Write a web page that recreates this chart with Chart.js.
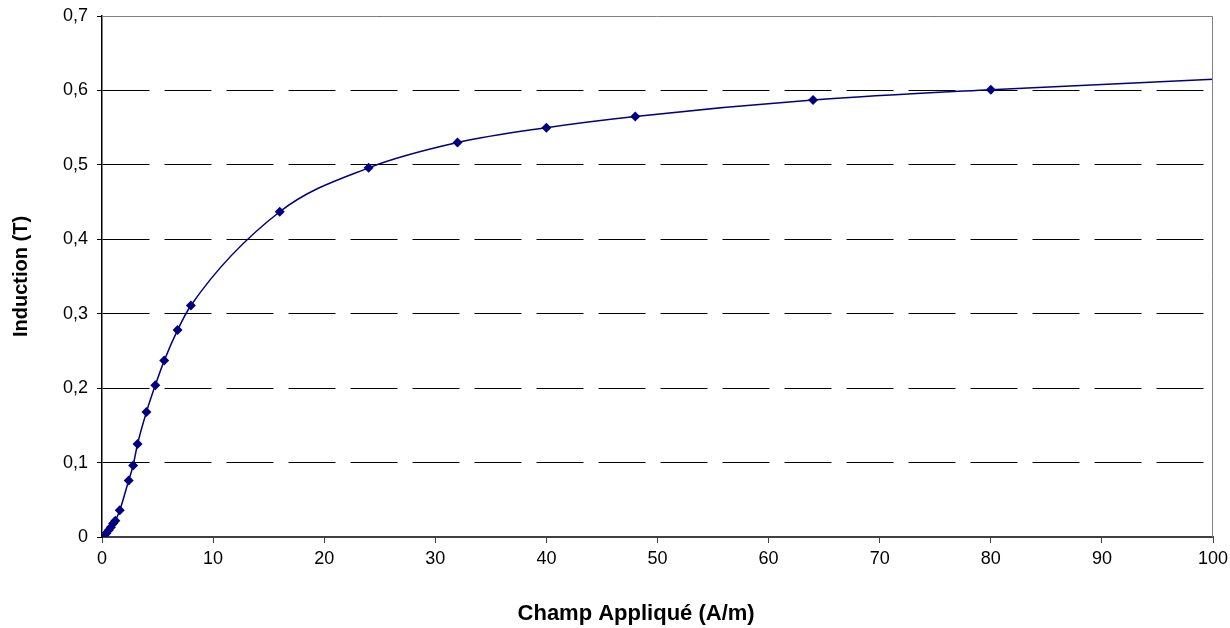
<!DOCTYPE html>
<html>
<head>
<meta charset="utf-8">
<script src="https://cdn.jsdelivr.net/npm/chart.js@4/dist/chart.umd.min.js"></script>
<style>
  html, body { margin: 0; padding: 0; background: #fff; }
  #wrap { width: 1230px; height: 628px; }
</style>
</head>
<body>
<div id="wrap"><canvas id="bhChart" width="1230" height="628"></canvas></div>
<script>
// champ appliqué H (A/m) et induction B (T)
const champ = [0, 0.2, 0.4, 0.6, 0.8, 1.0, 1.2, 1.6, 2.4, 2.8, 3.2, 4.0, 4.8, 5.6, 6.8, 8, 16, 24, 32, 40, 48, 64, 80, 100];
const induction = [0, 0.002, 0.005, 0.009, 0.013, 0.018, 0.022, 0.036, 0.076, 0.096, 0.125, 0.168, 0.204, 0.237, 0.278, 0.311, 0.437, 0.496, 0.530, 0.550, 0.565, 0.587, 0.601, 0.615];
// le dernier point (bord droit) n'a pas de marqueur
const marqueur = champ.map((h, i) => i === champ.length - 1 ? 0 : 5);

const xTicks = [0, 10, 20, 30, 40, 50, 60, 70, 80, 90, 100];
const yTicks = [0, 0.1, 0.2, 0.3, 0.4, 0.5, 0.6, 0.7];

const font = { family: '"Liberation Sans", Arial, sans-serif', size: 18 };
const xTitleFont = { family: '"Liberation Sans", Arial, sans-serif', size: 22, weight: 'bold' };
const yTitleFont = { family: '"Liberation Sans", Arial, sans-serif', size: 20, weight: 'bold' };

// cadre de la zone de tracé (haut et droite en gris)
const cadre = {
  id: 'cadre',
  afterDraw(chart) {
    const { ctx, chartArea: a } = chart;
    ctx.save();
    ctx.strokeStyle = '#808080';
    ctx.lineWidth = 1;
    ctx.beginPath();
    ctx.moveTo(a.left, a.top + 0.5);
    ctx.lineTo(a.right - 0.5, a.top + 0.5);
    ctx.lineTo(a.right - 0.5, a.bottom);
    ctx.stroke();
    ctx.restore();
  }
};

const ctx = document.getElementById('bhChart').getContext('2d');
new Chart(ctx, {
  type: 'scatter',
  data: {
    datasets: [{
      data: champ.map((h, i) => ({ x: h, y: induction[i] })),
      showLine: true,
      borderColor: '#000080',
      borderWidth: 1.5,
      backgroundColor: '#000080',
      pointStyle: 'rectRot',
      pointRadius: marqueur,
      pointBorderWidth: 0,
      cubicInterpolationMode: 'monotone'
    }]
  },
  options: {
    responsive: false,
    animation: false,
    layout: { padding: { top: 16, right: 17, left: 0, bottom: 0 } },
    plugins: { legend: { display: false }, tooltip: { enabled: false } },
    scales: {
      x: {
        type: 'linear',
        min: 0, max: 100,
        afterBuildTicks: s => { s.ticks = xTicks.map(v => ({ value: v })); },
        afterFit: s => { s.height = 91; s.paddingLeft = 0; s.paddingRight = 0; },
        ticks: { font, color: '#000', padding: 5, maxRotation: 0 },
        grid: { display: true, drawOnChartArea: false, tickLength: 6, tickColor: '#404040' },
        border: { color: '#404040', width: 2 },
        title: { display: true, text: 'Champ Appliqué (A/m)       ', font: xTitleFont, color: '#000', padding: { top: 0, bottom: 1 } }
      },
      y: {
        min: 0, max: 0.7,
        afterBuildTicks: s => { s.ticks = yTicks.map(v => ({ value: v })); },
        afterFit: s => { s.width = 102; s.paddingTop = 0; s.paddingBottom = 0; },
        ticks: {
          font, color: '#000', padding: 9,
          callback: v => String(Math.round(v * 10) / 10).replace('.', ',')
        },
        grid: { color: '#000', lineWidth: 1, tickLength: 5, tickColor: '#000' },
        border: { color: '#000', width: 1.5, dash: [47, 15] },
        title: { display: true, text: 'Induction (T)', font: yTitleFont, color: '#000', padding: { top: 9, bottom: 0 } }
      }
    }
  },
  plugins: [cadre]
});
</script>
</body>
</html>
